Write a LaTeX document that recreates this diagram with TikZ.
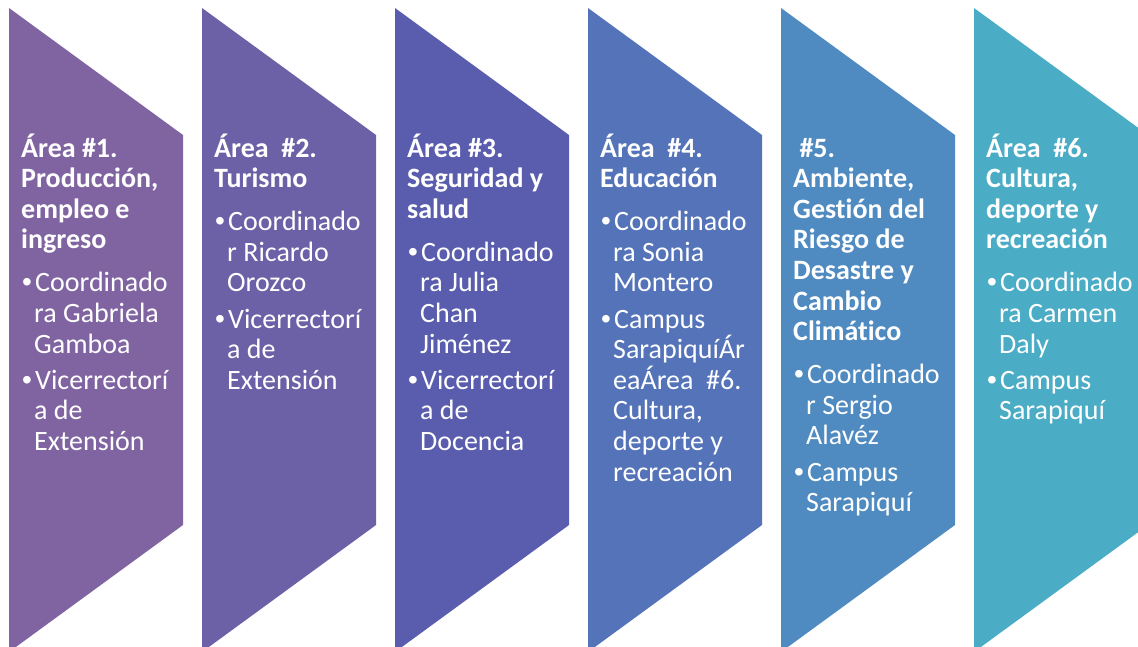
\documentclass[tikz,border=0pt]{standalone}
\usepackage{fontspec}
\setmainfont{Carlito}[Ligatures=NoCommon]
\newfontfamily\bulfont{Liberation Sans}
\definecolor{cA}{HTML}{8064A2}
\definecolor{cB}{HTML}{6C60A7}
\definecolor{cC}{HTML}{5A5DAE}
\definecolor{cD}{HTML}{5473B9}
\definecolor{cE}{HTML}{4F8BC0}
\definecolor{cF}{HTML}{4BACC6}
\newcommand\ttl[1]{\textbf{#1}}
\newcommand\bul{\makebox[14pt][l]{\hspace{1pt}{\bulfont •}}}
\newcommand\cnt{\hspace*{13pt}}
\newcommand\chevpath[1]{(#1,8) -- (#1+174,135) -- (#1+174,525) -- (#1,652) -- cycle}
\tikzset{
  chev/.style={draw=none},
  txt/.style={anchor=base west, inner sep=0pt, text=white,
    font=\fontsize{28}{30.6}\selectfont}
}
\begin{document}
\begin{tikzpicture}[x=1pt,y=-1pt]
\useasboundingbox (0,0) rectangle (1138,646);
\clip (0,0) rectangle (1138,646);
\fill[cA] \chevpath{9};
\fill[cB] \chevpath{202};
\fill[cC] \chevpath{395};
\fill[cD] \chevpath{588};
\fill[cE] \chevpath{781};
\fill[cF] \chevpath{974};

\node[txt] (t1) at (21,157) {\parbox[t]{250pt}{\raggedright
\ttl{Área \#1.}\\
\ttl{Producción,}\\
\ttl{empleo e}\\
\ttl{ingreso}\\[12.5pt]
\bul Coordinado\\
\cnt ra Gabriela\\
\cnt Gamboa\\[5.5pt]
\bul Vicerrectorí\\
\cnt a de\\
\cnt Extensión}};

\node[txt] (t2) at (214,157) {\parbox[t]{250pt}{\raggedright
\ttl{Área\ \ \#2.}\\
\ttl{Turismo}\\[12.5pt]
\bul Coordinado\\
\cnt r Ricardo\\
\cnt Orozco\\[5.5pt]
\bul Vicerrectorí\\
\cnt a de\\
\cnt Extensión}};

\node[txt] (t3) at (407,157) {\parbox[t]{250pt}{\raggedright
\ttl{Área \#3.}\\
\ttl{Seguridad y}\\
\ttl{salud}\\[12.5pt]
\bul Coordinado\\
\cnt ra Julia\\
\cnt Chan\\
\cnt Jiménez\\[5.5pt]
\bul Vicerrectorí\\
\cnt a de\\
\cnt Docencia}};

\node[txt] (t4) at (600,157) {\parbox[t]{250pt}{\raggedright
\ttl{Área\ \ \#4.}\\
\ttl{Educación}\\[12.5pt]
\bul Coordinado\\
\cnt ra Sonia\\
\cnt Montero\\[5.5pt]
\bul Campus\\
\cnt SarapiquíÁr\\
\cnt eaÁrea\ \ \#6.\\
\cnt Cultura,\\
\cnt deporte y\\
\cnt recreación}};

\node[txt] (t5) at (793,157) {\parbox[t]{250pt}{\raggedright
\hspace*{6.3pt}\ttl{\#5.}\\
\ttl{Ambiente,}\\
\ttl{Gestión del}\\
\ttl{Riesgo de}\\
\ttl{Desastre y}\\
\ttl{Cambio}\\
\ttl{Climático}\\[12.5pt]
\bul Coordinado\\
\cnt r Sergio\\
\cnt Alavéz\\[5.5pt]
\bul Campus\\
\cnt Sarapiquí}};

\node[txt] (t6) at (986,157) {\parbox[t]{250pt}{\raggedright
\ttl{Área\ \ \#6.}\\
\ttl{Cultura,}\\
\ttl{deporte y}\\
\ttl{recreación}\\[12.5pt]
\bul Coordinado\\
\cnt ra Carmen\\
\cnt Daly\\[5.5pt]
\bul Campus\\
\cnt Sarapiquí}};
\end{tikzpicture}
\end{document}
